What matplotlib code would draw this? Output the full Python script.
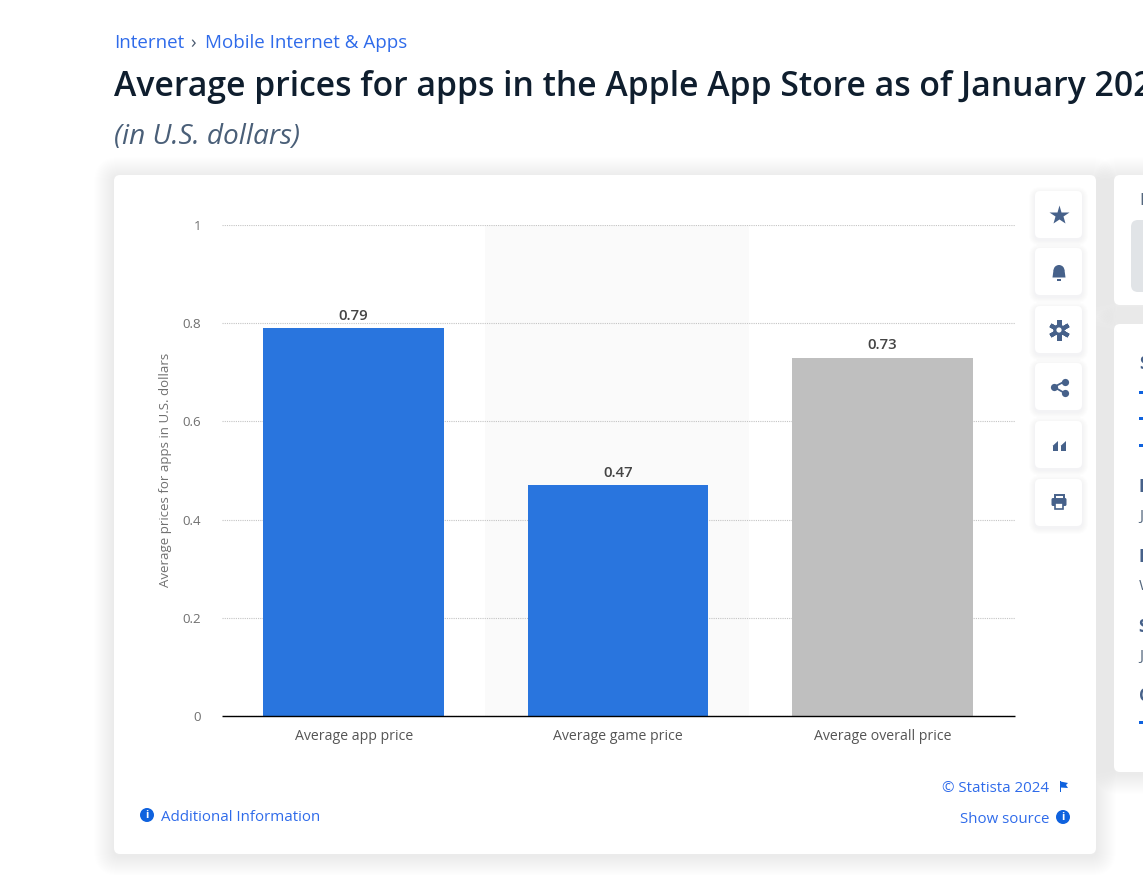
"""Average prices for apps in the Apple App Store"""

import matplotlib.pyplot as plt
from matplotlib.patches import Circle, FancyBboxPatch, Polygon, Rectangle, Wedge

W, H = 1143, 875

categories = ["Average app price", "Average game price", "Average overall price"]
prices = [0.79, 0.47, 0.73]
price_labels = ["0.79", "0.47", "0.73"]
bar_colors = ["#2975de", "#2975de", "#bfbfbf"]
y_ticks = [0, 0.2, 0.4, 0.6, 0.8, 1]
y_tick_labels = ["0", "0.2", "0.4", "0.6", "0.8", "1"]

BLUE = "#0f62de"
LINK = "#2f6bea"
ICON = "#46618a"
DARK = "#0f1e2e"
MUTED = "#55687f"

plt.rcParams["font.family"] = ["Open Sans", "DejaVu Sans"]

fig = plt.figure(figsize=(W / 100, H / 100), dpi=100, facecolor="white")

# page layer in pixel coordinates
page = fig.add_axes([0, 0, 1, 1], zorder=0)
page.set_xlim(0, W)
page.set_ylim(H, 0)
page.axis("off")


def card(x0, y0, x1, y1, radius=6, layers=14, strength=0.0055, z=1):
    for grow in range(layers, 0, -1):
        page.add_patch(FancyBboxPatch(
            (x0 - grow, y0 - grow + 2), x1 - x0 + 2 * grow, y1 - y0 + 2 * grow,
            boxstyle=f"round,pad=0,rounding_size={radius + grow}",
            fc="#3c5078", ec="none", alpha=strength, zorder=z))
    page.add_patch(FancyBboxPatch(
        (x0, y0), x1 - x0, y1 - y0, boxstyle=f"round,pad=0,rounding_size={radius}",
        fc="white", ec="none", zorder=z + 0.1))


def info_icon(x, y):
    page.add_patch(Circle((x, y), 7, fc=BLUE, ec="none", zorder=5))
    page.text(x, y, "i", color="white", fontsize=8, fontweight="bold",
              ha="center", va="center", zorder=6)


card(114, 175, 1096, 854, layers=20, strength=0.003)
card(1114, 175, 1180, 305, layers=20, strength=0.003)
card(1114, 324, 1180, 772, layers=20, strength=0.003)
page.add_patch(FancyBboxPatch((1131, 220), 60, 72, boxstyle="round,pad=0,rounding_size=7",
                              fc="#e1e4e7", ec="none", zorder=3))

# side panels, cut off by the right edge of the picture
page.text(1139, 201, "Download", color=MUTED, fontsize=12, va="center", zorder=4)
side_headings = [("Source", 364), ("Release date", 487), ("Region", 557),
                 ("Survey time period", 627), ("Citation", 696)]
side_values = [("January 2024", 517), ("Worldwide", 586), ("January 2024", 657)]
for label, y in side_headings:
    page.text(1139, y, label, color=ICON, fontsize=12, fontweight="bold", va="center", zorder=4)
for label, y in side_values:
    page.text(1139, y, label, color=MUTED, fontsize=11, va="center", zorder=4)
for y in [392, 418.5, 445.5, 722.5]:
    page.add_patch(Rectangle((1139, y - 1.5), 6, 3, fc=BLUE, ec="none", zorder=4))

# header
page.text(114, 43, "Internet", color=LINK, fontsize=13.5, va="center")
page.text(190, 43, "›", color="#4a5a70", fontsize=13.5, va="center")
page.text(205, 43, "Mobile Internet & Apps", color=LINK, fontsize=13.5, va="center")
page.text(114, 87, "Average prices for apps in the Apple App Store as of January 2024",
          color=DARK, fontsize=24.3, fontweight="semibold", va="center")
page.text(114, 137, "(in U.S. dollars)", color="#4a5f78", fontsize=20.2, style="italic", va="center")

# toolbar buttons
button_tops = [191, 248, 306, 363, 421, 479]
for top in button_tops:
    card(1035, top, 1082, top + 47, radius=5, layers=6, strength=0.006, z=2)

# star
page.plot(1059, 215, marker="*", ms=15, color=ICON, mec="none", zorder=5)
# bell
page.add_patch(Wedge((1059, 270.5), 5.5, 180, 360, fc=ICON, ec="none", zorder=5))
page.add_patch(Polygon([(1053.5, 270), (1064.5, 270), (1065.5, 277.5), (1052.5, 277.5)],
                       fc=ICON, ec="none", zorder=5))
page.add_patch(Rectangle((1057, 279), 4, 1.5, fc=ICON, ec="none", zorder=5))
# gear
page.plot(1059, 330, marker=(6, 2, 0), ms=15, mew=3, color=ICON, zorder=5)
page.add_patch(Circle((1059, 330), 5.7, fc=ICON, ec="none", zorder=5))
page.add_patch(Circle((1059, 330), 2.6, fc="white", ec="none", zorder=6))
# share
share_x = [1064.5, 1054, 1064.5]
share_y = [381.5, 387, 393]
page.plot(share_x, share_y, color=ICON, lw=1.3, zorder=5)
page.plot(share_x, share_y, "o", ms=5.2, color=ICON, mec="none", zorder=5)
# quote marks
for qx in (1052.5, 1060.5):
    page.add_patch(Rectangle((qx, 445.5), 5.5, 5, fc=ICON, ec="none", zorder=5))
    page.add_patch(Polygon([(qx, 446), (qx + 5.5, 441), (qx + 5.5, 446)], fc=ICON, ec="none", zorder=5))
# printer
page.add_patch(FancyBboxPatch((1051.5, 498), 15, 8, boxstyle="round,pad=0,rounding_size=1.5",
                              fc=ICON, ec="none", zorder=5))
page.add_patch(Rectangle((1054.5, 495), 9, 4, fc="white", ec=ICON, lw=1.4, zorder=5))
page.add_patch(Rectangle((1055, 503), 8, 5.5, fc="white", ec=ICON, lw=1.2, zorder=6))

# footer
info_icon(147, 815)
page.text(161, 817.5, "Additional Information", color=LINK, fontsize=10.8, va="center")
page.text(1049, 789, "© Statista 2024", color=LINK, fontsize=10.8, ha="right", va="center")
page.add_patch(Rectangle((1059.5, 781), 1.3, 11, fc=BLUE, ec="none", zorder=5))
page.add_patch(Polygon([(1060.5, 781.5), (1068, 783), (1066, 785), (1068, 788), (1060.5, 787.5)],
                       fc=BLUE, ec="none", zorder=5))
page.text(1049, 819.5, "Show source", color=LINK, fontsize=10.8, ha="right", va="center")
info_icon(1063, 817)

# chart
ax = fig.add_axes([221.5 / W, 1 - 716 / H, 793 / W, 491 / H], zorder=2)
ax.patch.set_alpha(0)
positions = list(range(len(categories)))
ax.axvspan(0.497, 1.496, color="#fafafa", lw=0, zorder=0)
ax.bar(positions, prices, width=0.684, color=bar_colors, zorder=3)
for pos, value, label in zip(positions, prices, price_labels):
    ax.annotate(label, (pos, value), xytext=(0, 4), textcoords="offset points",
                ha="center", va="bottom", color="#444444", fontsize=10.8, fontweight="semibold")

ax.set_xlim(-0.5, 2.5)
ax.set_ylim(0, 1)
ax.set_xticks(positions)
ax.set_xticklabels(categories, fontsize=10.2, color="#555555")
ax.set_yticks(y_ticks)
ax.set_yticklabels(y_tick_labels, fontsize=9.6, color="#707070")
ax.tick_params(axis="both", length=0)
ax.tick_params(axis="x", pad=9)
ax.tick_params(axis="y", pad=14.5)
ax.set_ylabel("Average prices for apps in U.S. dollars", fontsize=9.5, color="#707070")
ax.yaxis.set_label_coords(-0.0625, 0.501)
ax.grid(axis="y", linestyle=(0, (1, 1)), linewidth=0.8, color="#c4c4c4", zorder=1)
ax.set_axisbelow(True)
for side in ("top", "left", "right"):
    ax.spines[side].set_visible(False)
ax.spines["bottom"].set_color("#000000")
ax.spines["bottom"].set_linewidth(1.0)
ax.spines["bottom"].set_capstyle("butt")
ax.spines["bottom"].set_zorder(5)

fig.savefig("out.png", dpi=100)
plt.close(fig)
